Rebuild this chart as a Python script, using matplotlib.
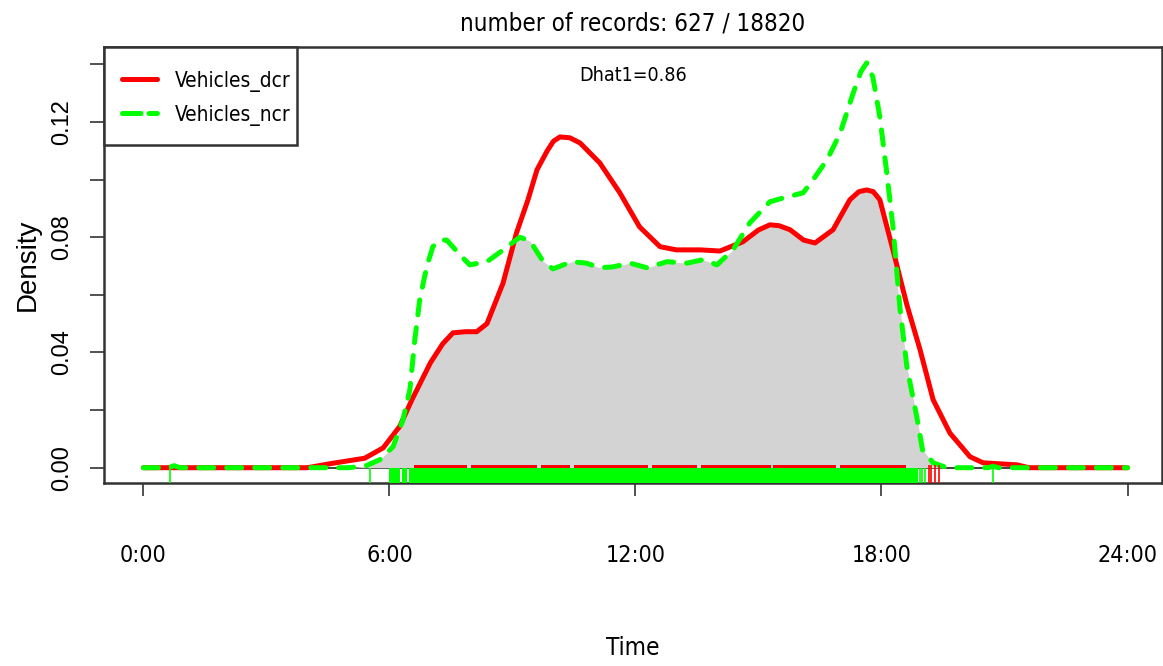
import numpy as np
import matplotlib
matplotlib.use("Agg")
import matplotlib.pyplot as plt
from matplotlib import font_manager
from matplotlib.font_manager import FontProperties

# density curves (hour of day, density)
dcr_hours = [0, 4.0, 4.6, 5.0, 5.4, 5.85, 6.25, 6.55, 7.0, 7.3, 7.55, 7.85, 8.13, 8.38,
             8.77, 9.1, 9.38, 9.6, 9.85, 10.0, 10.16, 10.4, 10.65, 11.13, 11.62, 12.1,
             12.6, 13.0, 13.58, 14.06, 14.62, 15.0, 15.28, 15.5, 15.77, 16.1, 16.38, 16.82,
             17.23, 17.45, 17.64, 17.8, 17.96, 18.28, 18.62, 18.94, 19.26, 19.67, 20.16,
             20.48, 21.3, 21.6, 24]
dcr_density = [0, 0, 0.0015, 0.0024, 0.0033, 0.0069, 0.0143, 0.0236, 0.0364, 0.0430,
               0.0468, 0.0472, 0.0472, 0.0500, 0.064, 0.0815, 0.093, 0.1034, 0.110,
               0.1133, 0.1148, 0.1145, 0.1127, 0.1058, 0.0954, 0.0836, 0.0767, 0.0756,
               0.0756, 0.0752, 0.0784, 0.0825, 0.0843, 0.0840, 0.0826, 0.079, 0.078,
               0.0826, 0.093, 0.0958, 0.0964, 0.0958, 0.093, 0.0756, 0.0565, 0.041,
               0.0236, 0.012, 0.0038, 0.0017, 0.001, 0.0, 0]

ncr_hours = [0, 0.6, 0.75, 0.9, 5.0, 5.4, 5.77, 6.09, 6.33, 6.5, 6.62, 6.74, 6.91, 7.06,
             7.23, 7.4, 7.72, 7.96, 8.38, 8.7, 9.18, 9.43, 9.74, 9.99, 10.45, 10.8, 11.13,
             11.45, 11.87, 12.28, 12.77, 13.26, 13.65, 13.99, 14.38, 14.79, 15.28, 15.6,
             16.09, 16.33, 16.67, 16.99, 17.31, 17.5, 17.64, 17.79, 17.96, 18.13, 18.28,
             18.45, 18.62, 18.86, 19.0, 19.26, 19.6, 20.6, 20.72, 20.85, 24]
ncr_density = [0, 0, 0.0007, 0, 0, 0.0005, 0.0028, 0.0073, 0.0166, 0.027, 0.0444, 0.0583,
               0.0697, 0.0767, 0.079, 0.079, 0.0739, 0.0704, 0.0715, 0.0748, 0.080,
               0.0787, 0.0718, 0.069, 0.0715, 0.071, 0.0694, 0.0697, 0.071, 0.0694,
               0.0715, 0.071, 0.0722, 0.0704, 0.0756, 0.085, 0.0923, 0.0936, 0.0954,
               0.0999, 0.1068, 0.116, 0.130, 0.1375, 0.1405, 0.1356, 0.1218, 0.1023,
               0.0836, 0.0555, 0.035, 0.0177, 0.0062, 0.0017, 0, 0, 0.0005, 0, 0]

# rug: single records that stand apart, and stretches where records are packed solid
ncr_rug_ticks = [0.65, 5.52, 18.93, 18.98, 19.05, 20.72]
ncr_rug_spans = [(6.0, 6.26), (6.3, 6.44), (6.48, 18.9)]
dcr_rug_ticks = [19.15, 19.22, 19.3, 19.4]
dcr_rug_spans = [(6.6, 7.9), (8.0, 9.6), (9.7, 10.4), (10.5, 12.3), (12.4, 13.5),
                 (13.6, 15.3), (15.35, 16.9), (17.0, 18.6)]

title = "number of records: 627 / 18820"
dhat = "Dhat1=0.86"
series_names = ["Vehicles_dcr", "Vehicles_ncr"]
x_ticks = [0, 6, 12, 18, 24]
x_labels = ["0:00", "6:00", "12:00", "18:00", "24:00"]
y_ticks = [0, 0.02, 0.04, 0.06, 0.08, 0.10, 0.12, 0.14]
y_labels = ["0.00", "", "0.04", "", "0.08", "", "0.12", ""]

# the reference text is squeezed sideways, so use a narrow face when one is installed
narrow_file = None
for f in font_manager.fontManager.ttflist:
    tag = (f.name + " " + f.fname).lower()
    if f.style == "normal" and f.weight in (400, "normal") and \
            ("narrow" in tag or "condensed" in tag) and "mono" not in tag and "serif" not in tag:
        if narrow_file is None or "liberation" in tag:
            narrow_file = f.fname


def narrow(size):
    if narrow_file:
        return FontProperties(fname=narrow_file, size=size)
    return FontProperties(family="Liberation Sans", size=size)


def fit(texts, px, ref=None):
    # scale font size so that `ref` (or the first text) is px pixels wide
    ref = ref or texts[0]
    k = px / ref.get_window_extent().width
    for t in texts:
        t.set_fontsize(t.get_fontsize() * k)


fig = plt.figure(figsize=(11.63, 6.66), dpi=100)
ax = fig.add_axes([0.0894, 0.2748, 0.9097, 0.6546])

# overlap region = minimum of both curves
grid = np.union1d(dcr_hours, ncr_hours)
low = np.minimum(np.interp(grid, dcr_hours, dcr_density), np.interp(grid, ncr_hours, ncr_density))
ax.fill_between(grid, 0, low, color="lightgrey", lw=0, zorder=1)
ax.plot([0, 24], [0, 0], color="#222222", lw=1.2, zorder=0.5)

red_line, = ax.plot(dcr_hours, dcr_density, color="red", lw=3.6, solid_capstyle="round",
                    solid_joinstyle="round", zorder=3)
green_line, = ax.plot(ncr_hours, ncr_density, color="#00ff00", lw=3.6, dashes=(3, 2.6),
                      dash_capstyle="round", dash_joinstyle="round", zorder=4)

# rug along the bottom
ybot = -0.0053
ax.vlines(dcr_rug_ticks, ybot, 0.0009, color="red", lw=1.2, zorder=5)
for a, b in dcr_rug_spans:
    ax.fill_between([a, b], ybot, 0.0009, color="red", lw=0, zorder=5)
ax.vlines(ncr_rug_ticks, ybot, 0.0, color="#00ff00", lw=1.2, zorder=6)
for a, b in ncr_rug_spans:
    ax.fill_between([a, b], ybot, 0.0, color="#00ff00", lw=0, zorder=6)

ax.set_xlim(-0.96, 24.84)
ax.set_ylim(ybot, 0.146)
ax.set_xticks(x_ticks)
ax.set_xticklabels(x_labels, fontproperties=narrow(15))
ax.set_yticks(y_ticks)
ax.set_yticklabels(y_labels, family="Liberation Sans", fontsize=17, rotation=90, va="center")
ax.tick_params(axis="x", length=9, width=1.2, pad=35, color="#333333")
ax.tick_params(axis="y", length=10, width=1.2, pad=12, color="#333333")
for s in ax.spines.values():
    s.set_linewidth(1.8)
    s.set_color("#333333")

ax.set_xlabel("Time", fontproperties=narrow(16), va="center")
ax.xaxis.set_label_coords(0.5, -0.378)
ax.set_ylabel("Density", family="Liberation Sans", fontsize=20, va="center")
ax.yaxis.set_label_coords(-0.072, 0.5)

t_title = ax.set_title(title, fontproperties=narrow(15), pad=12)
t_dhat = ax.text(0.5, 0.935, dhat, transform=ax.transAxes, ha="center", va="center",
                 fontproperties=narrow(13))

# legend box in the top-left corner, flush with the frame (as R draws it)
ax.add_patch(plt.Rectangle((0, 0.7752), 0.1824, 0.2248, transform=ax.transAxes,
                           facecolor="white", edgecolor="#333333", lw=1.8, zorder=8,
                           clip_on=False))
leg_rows = [0.9266, 0.8486]
leg_texts = []
for line, name, yy in zip([red_line, green_line], series_names, leg_rows):
    ax.plot([0.017, 0.0501], [yy, yy], transform=ax.transAxes, color=line.get_color(),
            lw=3.6, linestyle=line.get_linestyle(), dash_capstyle="round",
            solid_capstyle="round", zorder=9, clip_on=False)
    leg_texts.append(ax.text(0.0671, yy - 0.006, name, transform=ax.transAxes, va="center",
                             ha="left", fontproperties=narrow(15), zorder=9))

# size the narrow texts near the widths they take in the reference
fig.canvas.draw()
fit([t_title], 345)
fit([t_dhat], 108)
fit(leg_texts, 116)
fit(ax.get_xticklabels(), 60, ax.get_xticklabels()[2])
fit([ax.xaxis.label], 54)

fig.savefig("out.png", dpi=100)
